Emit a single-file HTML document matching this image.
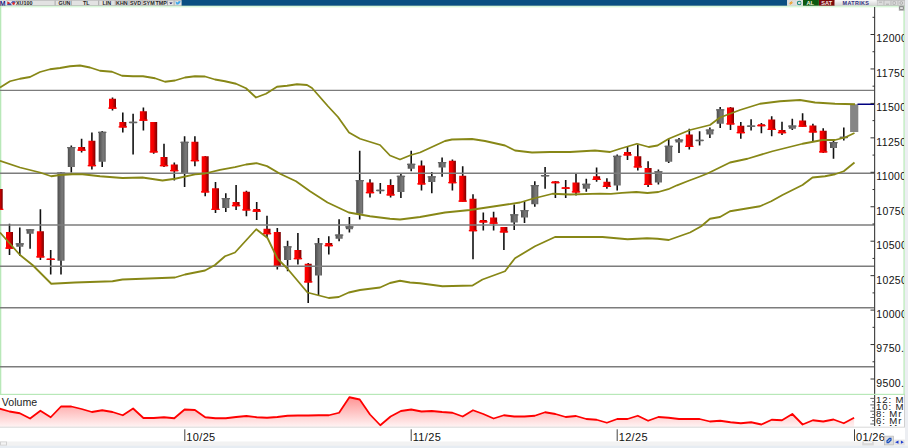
<!DOCTYPE html>
<html><head><meta charset="utf-8">
<style>
html,body{margin:0;padding:0;background:#fff;width:908px;height:448px;overflow:hidden}
svg{display:block;font-family:"Liberation Sans",sans-serif}
</style></head><body>
<svg width="908" height="448" viewBox="0 0 908 448">
<defs>
<linearGradient id="gr" x1="0" y1="0" x2="1" y2="0">
<stop offset="0" stop-color="#e80000"/><stop offset="0.12" stop-color="#ff0000"/><stop offset="0.45" stop-color="#f40000"/><stop offset="1" stop-color="#760000"/>
</linearGradient>
<linearGradient id="gg" x1="0" y1="0" x2="1" y2="0">
<stop offset="0" stop-color="#4c4c4c"/><stop offset="0.55" stop-color="#747474"/><stop offset="0.75" stop-color="#787878"/><stop offset="1" stop-color="#555"/>
</linearGradient>
<linearGradient id="gv" gradientUnits="userSpaceOnUse" x1="0" y1="395" x2="0" y2="427">
<stop offset="0" stop-color="#ff8c8c"/><stop offset="1" stop-color="#fff4f4"/>
</linearGradient>
<linearGradient id="gm" x1="0" y1="0" x2="0" y2="1"><stop offset="0" stop-color="#f8f8f8"/><stop offset="1" stop-color="#d4d4d4"/></linearGradient>
<clipPath id="cc"><rect x="0" y="7" width="874.5" height="387"/></clipPath>
<clipPath id="ca"><rect x="875" y="7" width="29" height="387"/></clipPath>
<clipPath id="cva"><rect x="875" y="395" width="29" height="31"/></clipPath>
<clipPath id="cv"><rect x="0" y="395" width="874.5" height="32"/></clipPath>
</defs>

<!-- toolbar -->
<rect x="0" y="0" width="908" height="6" fill="#e2e2e2"/>
<rect x="0" y="0" width="908" height="0.6" fill="#b4b4b4"/>
<rect x="0" y="5" width="908" height="1" fill="#bdbdbd"/>
<rect x="0" y="0.6" width="6" height="4.6" fill="#f2f2f8"/>
<text x="-0.2" y="5.6" font-size="7" font-weight="bold" fill="#1e1e78">M</text>
<rect x="7" y="0.8" width="8.6" height="4.6" fill="#e8e8f0"/>
<path d="M7.3,1.2 L10.5,3.2 L7.3,5 Z" fill="#d82020"/>
<path d="M7.3,4.2 L10.5,3.2 L12,5.2 L7.3,5.2 Z" fill="#4050a0"/>
<path d="M10.5,3.2 L12.5,1 L15.5,1.2 L15.5,3 Z" fill="#5060b0"/>
<circle cx="13.6" cy="3.6" r="1.3" fill="#e02828"/>
<g font-size="5.4" font-weight="bold" fill="#262626">
<text x="16" y="4.9">XU100</text>
<text x="58.5" y="4.9">GUN</text>
<text x="83" y="4.9">TL</text>
<text x="102.5" y="4.9">LIN</text>
<text x="116" y="4.9">KHN</text>
<text x="130" y="4.9">SVD</text>
<text x="143" y="4.9">SYM</text>
<text x="155.5" y="4.9">TMP</text>
</g>
<g fill="#a8a8a8">
<rect x="54.6" y="0.6" width="1" height="4.8"/>
<rect x="70.8" y="0.6" width="1" height="4.8"/>
<rect x="98.2" y="0.6" width="1" height="4.8"/>
<rect x="114.8" y="0.6" width="1" height="4.8"/>
<rect x="128.5" y="0.6" width="1" height="4.8"/>
<rect x="141.6" y="0.6" width="1" height="4.8"/>
<rect x="167" y="0.6" width="1" height="4.8"/>
<rect x="173.6" y="0.6" width="1" height="4.8"/>
</g>
<path d="M169.2,2.4 L172.6,2.4 L170.9,4.2 Z" fill="#1a1a60"/>
<path d="M175.2,4.6 Q178.8,5.4 180.4,2.2 L181.2,1.3 L180.2,1.5 Q179.2,0.6 178.2,1.6 L178,2.4 Q176.6,2.3 175.6,1.2 Q175.2,2.4 176.2,3 L175.6,3 Q176,4 177,4.2 Q176.2,4.7 175.2,4.6 Z" fill="#40a8e8"/>
<rect x="181.6" y="0" width="605.5" height="5.8" fill="#0a4f82"/>
<rect x="787.1" y="0" width="8.4" height="5.8" fill="#dcdcdc"/>
<path d="M792.6,0.4 L788.6,3.4 L790.7,3.4 L789.2,5.6 L793.4,2.4 L791.3,2.4 Z" fill="#f09a18"/>
<rect x="795.5" y="0" width="7.4" height="5.8" fill="#e0e0e0"/>
<circle cx="799.2" cy="3" r="1.8" fill="none" stroke="#188a78" stroke-width="1.1"/><rect x="800.2" y="2.4" width="1.4" height="1" fill="#e0e0e0"/>
<rect x="803" y="0" width="15.9" height="5.8" fill="#0c5a10"/>
<text x="806.5" y="5" font-size="5.6" font-weight="bold" fill="#f4f4e0">AL</text>
<rect x="819" y="0" width="15.6" height="5.8" fill="#7c0a0a"/>
<text x="821.3" y="5" font-size="5.6" font-weight="bold" fill="#f4e8e8">SAT</text>
<rect x="834.8" y="0" width="42" height="5.8" fill="url(#gm)"/>
<text x="842.6" y="4.9" font-size="5.4" font-weight="bold" fill="#303080" letter-spacing="0.35">MATRIKS</text>
<g fill="#dadada" stroke="#b8b8b8" stroke-width="0.5"><rect x="877.2" y="0.5" width="6.4" height="4.9"/><rect x="884.2" y="0.5" width="6.4" height="4.9"/><rect x="891.2" y="0.5" width="6.4" height="4.9"/><rect x="898.2" y="0.5" width="6.4" height="4.9"/></g>
<g fill="#999"><rect x="879" y="1.8" width="3" height="0.6"/><rect x="886" y="3.8" width="3" height="0.7"/><rect x="893" y="1.8" width="2.5" height="2.5" fill="none" stroke="#999" stroke-width="0.5"/><circle cx="901.3" cy="3" r="1.4" fill="none" stroke="#999" stroke-width="0.6"/></g>
<rect x="905" y="0" width="3" height="448" fill="#eceef2"/>

<!-- green borders -->
<rect x="0" y="5.8" width="905" height="1" fill="#cdf5cd"/><rect x="0" y="6.8" width="905" height="0.8" fill="#e6fae6"/>
<rect x="0" y="6" width="1.3" height="388" fill="#b8e8b8"/>
<rect x="903.4" y="6" width="1.4" height="388" fill="#bfeabf"/>

<rect x="898.8" y="5.8" width="5.6" height="5" fill="#b4b4b4"/>
<rect x="899.8" y="6.8" width="3.4" height="2.8" fill="#e0e0e0" stroke="#666" stroke-width="0.6"/>
<g clip-path="url(#cc)">
<line x1="-0.80" y1="185" x2="-0.80" y2="212" stroke="#111" stroke-width="1.6"/>
<rect x="-4.30" y="189" width="7" height="21.00" fill="url(#gr)"/>
<rect x="-5.00" y="208.70" width="8.4" height="1.3" fill="#f00"/>
<line x1="9.50" y1="223.75" x2="9.50" y2="255" stroke="#111" stroke-width="1.6"/>
<rect x="6.00" y="232" width="7" height="16.75" fill="url(#gr)"/>
<rect x="5.30" y="247.45" width="8.4" height="1.3" fill="#f00"/>
<line x1="19.80" y1="227.5" x2="19.80" y2="255.75" stroke="#111" stroke-width="1.6"/>
<rect x="16.30" y="243.25" width="7" height="3.50" fill="url(#gg)"/>
<rect x="15.60" y="243.25" width="8.4" height="1.3" fill="#666"/>
<line x1="30.10" y1="229" x2="30.10" y2="248.75" stroke="#111" stroke-width="1.6"/>
<rect x="26.60" y="229.25" width="7" height="4.50" fill="url(#gg)"/>
<rect x="25.90" y="229.25" width="8.4" height="1.3" fill="#666"/>
<line x1="40.40" y1="209.25" x2="40.40" y2="260" stroke="#111" stroke-width="1.6"/>
<rect x="36.90" y="231.25" width="7" height="26.25" fill="url(#gr)"/>
<rect x="36.20" y="256.20" width="8.4" height="1.3" fill="#f00"/>
<line x1="50.70" y1="250" x2="50.70" y2="274.5" stroke="#111" stroke-width="1.6"/>
<rect x="47.20" y="258.5" width="7" height="1.50" fill="url(#gr)"/>
<rect x="46.50" y="258.70" width="8.4" height="1.3" fill="#f00"/>
<line x1="61.00" y1="172" x2="61.00" y2="274.5" stroke="#111" stroke-width="1.6"/>
<rect x="57.50" y="172.5" width="7" height="88.25" fill="url(#gg)"/>
<rect x="56.80" y="172.50" width="8.4" height="1.3" fill="#666"/>
<line x1="71.30" y1="145.5" x2="71.30" y2="172.5" stroke="#111" stroke-width="1.6"/>
<rect x="67.80" y="147" width="7" height="20.00" fill="url(#gg)"/>
<rect x="67.10" y="147.00" width="8.4" height="1.3" fill="#666"/>
<line x1="81.60" y1="138.75" x2="81.60" y2="152.5" stroke="#111" stroke-width="1.6"/>
<rect x="78.10" y="147" width="7" height="3.75" fill="url(#gr)"/>
<rect x="77.40" y="149.45" width="8.4" height="1.3" fill="#f00"/>
<line x1="91.90" y1="132.5" x2="91.90" y2="169.5" stroke="#111" stroke-width="1.6"/>
<rect x="88.40" y="140.75" width="7" height="25.50" fill="url(#gr)"/>
<rect x="87.70" y="164.95" width="8.4" height="1.3" fill="#f00"/>
<line x1="102.20" y1="131" x2="102.20" y2="167" stroke="#111" stroke-width="1.6"/>
<rect x="98.70" y="131.75" width="7" height="30.00" fill="url(#gg)"/>
<rect x="98.00" y="131.75" width="8.4" height="1.3" fill="#666"/>
<line x1="112.50" y1="97.5" x2="112.50" y2="110.5" stroke="#111" stroke-width="1.6"/>
<rect x="109.00" y="98.75" width="7" height="10.00" fill="url(#gr)"/>
<rect x="108.30" y="107.45" width="8.4" height="1.3" fill="#f00"/>
<line x1="122.80" y1="112.5" x2="122.80" y2="132.5" stroke="#111" stroke-width="1.6"/>
<rect x="119.30" y="122" width="7" height="5.50" fill="url(#gr)"/>
<rect x="118.60" y="126.20" width="8.4" height="1.3" fill="#f00"/>
<line x1="133.10" y1="113.75" x2="133.10" y2="154.5" stroke="#111" stroke-width="1.6"/>
<rect x="129.60" y="121.75" width="7" height="1.50" fill="url(#gg)"/>
<rect x="128.90" y="121.75" width="8.4" height="1.3" fill="#666"/>
<line x1="143.40" y1="107.5" x2="143.40" y2="130.5" stroke="#111" stroke-width="1.6"/>
<rect x="139.90" y="111.25" width="7" height="9.50" fill="url(#gr)"/>
<rect x="139.20" y="119.45" width="8.4" height="1.3" fill="#f00"/>
<line x1="153.70" y1="122" x2="153.70" y2="153.75" stroke="#111" stroke-width="1.6"/>
<rect x="150.20" y="122" width="7" height="30.50" fill="url(#gr)"/>
<rect x="149.50" y="151.20" width="8.4" height="1.3" fill="#f00"/>
<line x1="164.00" y1="143.75" x2="164.00" y2="167" stroke="#111" stroke-width="1.6"/>
<rect x="160.50" y="157" width="7" height="9.25" fill="url(#gr)"/>
<rect x="159.80" y="164.95" width="8.4" height="1.3" fill="#f00"/>
<line x1="174.30" y1="162.5" x2="174.30" y2="180.5" stroke="#111" stroke-width="1.6"/>
<rect x="170.80" y="164.5" width="7" height="6.75" fill="url(#gr)"/>
<rect x="170.10" y="169.95" width="8.4" height="1.3" fill="#f00"/>
<line x1="184.60" y1="136.25" x2="184.60" y2="187" stroke="#111" stroke-width="1.6"/>
<rect x="181.10" y="141.75" width="7" height="32.00" fill="url(#gg)"/>
<rect x="180.40" y="141.75" width="8.4" height="1.3" fill="#666"/>
<line x1="194.90" y1="136.25" x2="194.90" y2="166.25" stroke="#111" stroke-width="1.6"/>
<rect x="191.40" y="141.75" width="7" height="19.50" fill="url(#gr)"/>
<rect x="190.70" y="159.95" width="8.4" height="1.3" fill="#f00"/>
<line x1="205.20" y1="156" x2="205.20" y2="196.25" stroke="#111" stroke-width="1.6"/>
<rect x="201.70" y="156.25" width="7" height="36.25" fill="url(#gr)"/>
<rect x="201.00" y="191.20" width="8.4" height="1.3" fill="#f00"/>
<line x1="215.50" y1="182" x2="215.50" y2="213" stroke="#111" stroke-width="1.6"/>
<rect x="212.00" y="188.25" width="7" height="21.75" fill="url(#gr)"/>
<rect x="211.30" y="208.70" width="8.4" height="1.3" fill="#f00"/>
<line x1="225.80" y1="193.25" x2="225.80" y2="212" stroke="#111" stroke-width="1.6"/>
<rect x="222.30" y="198" width="7" height="10.00" fill="url(#gg)"/>
<rect x="221.60" y="198.00" width="8.4" height="1.3" fill="#666"/>
<line x1="236.10" y1="185" x2="236.10" y2="210" stroke="#111" stroke-width="1.6"/>
<rect x="232.60" y="202" width="7" height="4.25" fill="url(#gr)"/>
<rect x="231.90" y="204.95" width="8.4" height="1.3" fill="#f00"/>
<line x1="246.40" y1="190.75" x2="246.40" y2="216.25" stroke="#111" stroke-width="1.6"/>
<rect x="242.90" y="191.75" width="7" height="18.75" fill="url(#gr)"/>
<rect x="242.20" y="209.20" width="8.4" height="1.3" fill="#f00"/>
<line x1="256.70" y1="202" x2="256.70" y2="220" stroke="#111" stroke-width="1.6"/>
<rect x="253.20" y="209" width="7" height="2.75" fill="url(#gr)"/>
<rect x="252.50" y="210.45" width="8.4" height="1.3" fill="#f00"/>
<line x1="267.00" y1="215.75" x2="267.00" y2="238" stroke="#111" stroke-width="1.6"/>
<rect x="263.50" y="228.75" width="7" height="5.50" fill="url(#gr)"/>
<rect x="262.80" y="232.95" width="8.4" height="1.3" fill="#f00"/>
<line x1="277.30" y1="228" x2="277.30" y2="269.5" stroke="#111" stroke-width="1.6"/>
<rect x="273.80" y="232" width="7" height="35.00" fill="url(#gr)"/>
<rect x="273.10" y="265.70" width="8.4" height="1.3" fill="#f00"/>
<line x1="287.60" y1="240.75" x2="287.60" y2="271.25" stroke="#111" stroke-width="1.6"/>
<rect x="284.10" y="246.25" width="7" height="13.75" fill="url(#gg)"/>
<rect x="283.40" y="246.25" width="8.4" height="1.3" fill="#666"/>
<line x1="297.90" y1="233" x2="297.90" y2="264.5" stroke="#111" stroke-width="1.6"/>
<rect x="294.40" y="250" width="7" height="9.25" fill="url(#gr)"/>
<rect x="293.70" y="257.95" width="8.4" height="1.3" fill="#f00"/>
<line x1="308.20" y1="263" x2="308.20" y2="303" stroke="#111" stroke-width="1.6"/>
<rect x="304.70" y="263.75" width="7" height="18.75" fill="url(#gr)"/>
<rect x="304.00" y="281.20" width="8.4" height="1.3" fill="#f00"/>
<line x1="318.50" y1="238" x2="318.50" y2="295" stroke="#111" stroke-width="1.6"/>
<rect x="315.00" y="243.25" width="7" height="32.25" fill="url(#gg)"/>
<rect x="314.30" y="243.25" width="8.4" height="1.3" fill="#666"/>
<line x1="328.80" y1="236.25" x2="328.80" y2="254.5" stroke="#111" stroke-width="1.6"/>
<rect x="325.30" y="243" width="7" height="3.25" fill="url(#gr)"/>
<rect x="324.60" y="244.95" width="8.4" height="1.3" fill="#f00"/>
<line x1="339.10" y1="219.25" x2="339.10" y2="241.25" stroke="#111" stroke-width="1.6"/>
<rect x="335.60" y="234.5" width="7" height="4.25" fill="url(#gg)"/>
<rect x="334.90" y="234.50" width="8.4" height="1.3" fill="#666"/>
<line x1="349.40" y1="217" x2="349.40" y2="232.5" stroke="#111" stroke-width="1.6"/>
<rect x="345.90" y="226.25" width="7" height="3.00" fill="url(#gg)"/>
<rect x="345.20" y="226.25" width="8.4" height="1.3" fill="#666"/>
<line x1="359.70" y1="150.75" x2="359.70" y2="219.5" stroke="#111" stroke-width="1.6"/>
<rect x="356.20" y="180" width="7" height="33.75" fill="url(#gg)"/>
<rect x="355.50" y="180.00" width="8.4" height="1.3" fill="#666"/>
<line x1="370.00" y1="179.25" x2="370.00" y2="197.5" stroke="#111" stroke-width="1.6"/>
<rect x="366.50" y="182.5" width="7" height="10.75" fill="url(#gr)"/>
<rect x="365.80" y="191.95" width="8.4" height="1.3" fill="#f00"/>
<line x1="380.30" y1="183" x2="380.30" y2="193.75" stroke="#111" stroke-width="1.6"/>
<rect x="376.80" y="189.75" width="7" height="1.50" fill="url(#gg)"/>
<rect x="376.10" y="189.75" width="8.4" height="1.3" fill="#666"/>
<line x1="390.60" y1="179.25" x2="390.60" y2="197.5" stroke="#111" stroke-width="1.6"/>
<rect x="387.10" y="185" width="7" height="10.50" fill="url(#gr)"/>
<rect x="386.40" y="194.20" width="8.4" height="1.3" fill="#f00"/>
<line x1="400.90" y1="173.75" x2="400.90" y2="198" stroke="#111" stroke-width="1.6"/>
<rect x="397.40" y="175.75" width="7" height="16.25" fill="url(#gg)"/>
<rect x="396.70" y="175.75" width="8.4" height="1.3" fill="#666"/>
<line x1="411.20" y1="150.75" x2="411.20" y2="171.25" stroke="#111" stroke-width="1.6"/>
<rect x="407.70" y="163.75" width="7" height="5.00" fill="url(#gg)"/>
<rect x="407.00" y="163.75" width="8.4" height="1.3" fill="#666"/>
<line x1="421.50" y1="160.5" x2="421.50" y2="190.5" stroke="#111" stroke-width="1.6"/>
<rect x="418.00" y="165.5" width="7" height="19.00" fill="url(#gr)"/>
<rect x="417.30" y="183.20" width="8.4" height="1.3" fill="#f00"/>
<line x1="431.80" y1="172" x2="431.80" y2="193.25" stroke="#111" stroke-width="1.6"/>
<rect x="428.30" y="176.25" width="7" height="5.75" fill="url(#gg)"/>
<rect x="427.60" y="176.25" width="8.4" height="1.3" fill="#666"/>
<line x1="442.10" y1="157.5" x2="442.10" y2="176.75" stroke="#111" stroke-width="1.6"/>
<rect x="438.60" y="162" width="7" height="5.50" fill="url(#gg)"/>
<rect x="437.90" y="162.00" width="8.4" height="1.3" fill="#666"/>
<line x1="452.40" y1="159.5" x2="452.40" y2="190.5" stroke="#111" stroke-width="1.6"/>
<rect x="448.90" y="160.75" width="7" height="22.50" fill="url(#gr)"/>
<rect x="448.20" y="181.95" width="8.4" height="1.3" fill="#f00"/>
<line x1="462.70" y1="166.25" x2="462.70" y2="201.75" stroke="#111" stroke-width="1.6"/>
<rect x="459.20" y="175.75" width="7" height="26.00" fill="url(#gr)"/>
<rect x="458.50" y="200.45" width="8.4" height="1.3" fill="#f00"/>
<line x1="473.00" y1="194.25" x2="473.00" y2="259.25" stroke="#111" stroke-width="1.6"/>
<rect x="469.50" y="198.75" width="7" height="32.50" fill="url(#gr)"/>
<rect x="468.80" y="229.95" width="8.4" height="1.3" fill="#f00"/>
<line x1="483.30" y1="212.5" x2="483.30" y2="230.5" stroke="#111" stroke-width="1.6"/>
<rect x="479.80" y="220" width="7" height="2.50" fill="url(#gr)"/>
<rect x="479.10" y="221.20" width="8.4" height="1.3" fill="#f00"/>
<line x1="493.60" y1="211.75" x2="493.60" y2="230.5" stroke="#111" stroke-width="1.6"/>
<rect x="490.10" y="217.5" width="7" height="6.25" fill="url(#gr)"/>
<rect x="489.40" y="222.45" width="8.4" height="1.3" fill="#f00"/>
<line x1="503.90" y1="227" x2="503.90" y2="250" stroke="#111" stroke-width="1.6"/>
<rect x="500.40" y="227" width="7" height="5.50" fill="url(#gr)"/>
<rect x="499.70" y="231.20" width="8.4" height="1.3" fill="#f00"/>
<line x1="514.20" y1="204.5" x2="514.20" y2="230" stroke="#111" stroke-width="1.6"/>
<rect x="510.70" y="214.25" width="7" height="8.25" fill="url(#gg)"/>
<rect x="510.00" y="214.25" width="8.4" height="1.3" fill="#666"/>
<line x1="524.50" y1="201.25" x2="524.50" y2="223" stroke="#111" stroke-width="1.6"/>
<rect x="521.00" y="210" width="7" height="7.50" fill="url(#gg)"/>
<rect x="520.30" y="210.00" width="8.4" height="1.3" fill="#666"/>
<line x1="534.80" y1="181.25" x2="534.80" y2="206.75" stroke="#111" stroke-width="1.6"/>
<rect x="531.30" y="185" width="7" height="19.25" fill="url(#gg)"/>
<rect x="530.60" y="185.00" width="8.4" height="1.3" fill="#666"/>
<line x1="545.10" y1="167" x2="545.10" y2="188.75" stroke="#111" stroke-width="1.6"/>
<rect x="541.60" y="175" width="7" height="1.50" fill="url(#gg)"/>
<rect x="540.90" y="175.00" width="8.4" height="1.3" fill="#666"/>
<line x1="555.40" y1="181" x2="555.40" y2="198" stroke="#111" stroke-width="1.6"/>
<rect x="551.90" y="181.25" width="7" height="2.00" fill="url(#gr)"/>
<rect x="551.20" y="181.95" width="8.4" height="1.3" fill="#f00"/>
<line x1="565.70" y1="180" x2="565.70" y2="198" stroke="#111" stroke-width="1.6"/>
<rect x="562.20" y="187.25" width="7" height="1.50" fill="url(#gr)"/>
<rect x="561.50" y="187.45" width="8.4" height="1.3" fill="#f00"/>
<line x1="576.00" y1="173" x2="576.00" y2="195.5" stroke="#111" stroke-width="1.6"/>
<rect x="572.50" y="182.5" width="7" height="10.00" fill="url(#gr)"/>
<rect x="571.80" y="191.20" width="8.4" height="1.3" fill="#f00"/>
<line x1="586.30" y1="178.75" x2="586.30" y2="191.75" stroke="#111" stroke-width="1.6"/>
<rect x="582.80" y="183.75" width="7" height="5.00" fill="url(#gg)"/>
<rect x="582.10" y="183.75" width="8.4" height="1.3" fill="#666"/>
<line x1="596.60" y1="167.5" x2="596.60" y2="181.75" stroke="#111" stroke-width="1.6"/>
<rect x="593.10" y="176.25" width="7" height="3.75" fill="url(#gr)"/>
<rect x="592.40" y="178.70" width="8.4" height="1.3" fill="#f00"/>
<line x1="606.90" y1="178.25" x2="606.90" y2="188.75" stroke="#111" stroke-width="1.6"/>
<rect x="603.40" y="181.75" width="7" height="5.25" fill="url(#gr)"/>
<rect x="602.70" y="185.70" width="8.4" height="1.3" fill="#f00"/>
<line x1="617.20" y1="154.5" x2="617.20" y2="190.5" stroke="#111" stroke-width="1.6"/>
<rect x="613.70" y="155.75" width="7" height="29.75" fill="url(#gg)"/>
<rect x="613.00" y="155.75" width="8.4" height="1.3" fill="#666"/>
<line x1="627.50" y1="147" x2="627.50" y2="160" stroke="#111" stroke-width="1.6"/>
<rect x="624.00" y="152" width="7" height="3.50" fill="url(#gr)"/>
<rect x="623.30" y="154.20" width="8.4" height="1.3" fill="#f00"/>
<line x1="637.80" y1="144.5" x2="637.80" y2="170.5" stroke="#111" stroke-width="1.6"/>
<rect x="634.30" y="156.25" width="7" height="11.25" fill="url(#gr)"/>
<rect x="633.60" y="166.20" width="8.4" height="1.3" fill="#f00"/>
<line x1="648.10" y1="161.25" x2="648.10" y2="187" stroke="#111" stroke-width="1.6"/>
<rect x="644.60" y="168" width="7" height="17.00" fill="url(#gr)"/>
<rect x="643.90" y="183.70" width="8.4" height="1.3" fill="#f00"/>
<line x1="658.40" y1="169.5" x2="658.40" y2="184.5" stroke="#111" stroke-width="1.6"/>
<rect x="654.90" y="171.25" width="7" height="11.25" fill="url(#gg)"/>
<rect x="654.20" y="171.25" width="8.4" height="1.3" fill="#666"/>
<line x1="668.70" y1="138.75" x2="668.70" y2="163" stroke="#111" stroke-width="1.6"/>
<rect x="665.20" y="145.75" width="7" height="16.00" fill="url(#gg)"/>
<rect x="664.50" y="145.75" width="8.4" height="1.3" fill="#666"/>
<line x1="679.00" y1="138" x2="679.00" y2="153" stroke="#111" stroke-width="1.6"/>
<rect x="675.50" y="139.5" width="7" height="3.00" fill="url(#gg)"/>
<rect x="674.80" y="139.50" width="8.4" height="1.3" fill="#666"/>
<line x1="689.30" y1="128.75" x2="689.30" y2="149.5" stroke="#111" stroke-width="1.6"/>
<rect x="685.80" y="134.5" width="7" height="12.50" fill="url(#gr)"/>
<rect x="685.10" y="145.70" width="8.4" height="1.3" fill="#f00"/>
<line x1="699.60" y1="131.25" x2="699.60" y2="145.5" stroke="#111" stroke-width="1.6"/>
<rect x="696.10" y="139.75" width="7" height="1.50" fill="url(#gg)"/>
<rect x="695.40" y="139.75" width="8.4" height="1.3" fill="#666"/>
<line x1="709.90" y1="127.5" x2="709.90" y2="138" stroke="#111" stroke-width="1.6"/>
<rect x="706.40" y="129.5" width="7" height="5.00" fill="url(#gg)"/>
<rect x="705.70" y="129.50" width="8.4" height="1.3" fill="#666"/>
<line x1="720.20" y1="107" x2="720.20" y2="128" stroke="#111" stroke-width="1.6"/>
<rect x="716.70" y="109.25" width="7" height="14.50" fill="url(#gg)"/>
<rect x="716.00" y="109.25" width="8.4" height="1.3" fill="#666"/>
<line x1="730.50" y1="107" x2="730.50" y2="130" stroke="#111" stroke-width="1.6"/>
<rect x="727.00" y="107.5" width="7" height="17.00" fill="url(#gr)"/>
<rect x="726.30" y="123.20" width="8.4" height="1.3" fill="#f00"/>
<line x1="740.80" y1="122" x2="740.80" y2="138.75" stroke="#111" stroke-width="1.6"/>
<rect x="737.30" y="125.75" width="7" height="7.50" fill="url(#gr)"/>
<rect x="736.60" y="131.95" width="8.4" height="1.3" fill="#f00"/>
<line x1="751.10" y1="119.25" x2="751.10" y2="130.5" stroke="#111" stroke-width="1.6"/>
<rect x="747.60" y="125.5" width="7" height="1.50" fill="url(#gg)"/>
<rect x="746.90" y="125.50" width="8.4" height="1.3" fill="#666"/>
<line x1="761.40" y1="123" x2="761.40" y2="133.25" stroke="#111" stroke-width="1.6"/>
<rect x="757.90" y="124.25" width="7" height="2.00" fill="url(#gr)"/>
<rect x="757.20" y="124.95" width="8.4" height="1.3" fill="#f00"/>
<line x1="771.70" y1="116.25" x2="771.70" y2="136.25" stroke="#111" stroke-width="1.6"/>
<rect x="768.20" y="119.5" width="7" height="10.50" fill="url(#gr)"/>
<rect x="767.50" y="128.70" width="8.4" height="1.3" fill="#f00"/>
<line x1="782.00" y1="121.75" x2="782.00" y2="135" stroke="#111" stroke-width="1.6"/>
<rect x="778.50" y="130" width="7" height="3.25" fill="url(#gr)"/>
<rect x="777.80" y="131.95" width="8.4" height="1.3" fill="#f00"/>
<line x1="792.30" y1="118.75" x2="792.30" y2="130" stroke="#111" stroke-width="1.6"/>
<rect x="788.80" y="125.5" width="7" height="3.25" fill="url(#gg)"/>
<rect x="788.10" y="125.50" width="8.4" height="1.3" fill="#666"/>
<line x1="802.60" y1="113.25" x2="802.60" y2="127" stroke="#111" stroke-width="1.6"/>
<rect x="799.10" y="120.5" width="7" height="6.25" fill="url(#gr)"/>
<rect x="798.40" y="125.45" width="8.4" height="1.3" fill="#f00"/>
<line x1="812.90" y1="123.75" x2="812.90" y2="142" stroke="#111" stroke-width="1.6"/>
<rect x="809.40" y="125.5" width="7" height="7.00" fill="url(#gr)"/>
<rect x="808.70" y="131.20" width="8.4" height="1.3" fill="#f00"/>
<line x1="823.20" y1="128.25" x2="823.20" y2="153" stroke="#111" stroke-width="1.6"/>
<rect x="819.70" y="130.75" width="7" height="21.75" fill="url(#gr)"/>
<rect x="819.00" y="151.20" width="8.4" height="1.3" fill="#f00"/>
<line x1="833.50" y1="139.5" x2="833.50" y2="158.75" stroke="#111" stroke-width="1.6"/>
<rect x="830.00" y="142" width="7" height="6.00" fill="url(#gg)"/>
<rect x="829.30" y="142.00" width="8.4" height="1.3" fill="#666"/>
<line x1="843.80" y1="127.5" x2="843.80" y2="140.5" stroke="#111" stroke-width="1.6"/>
<rect x="840.30" y="136.75" width="7" height="1.50" fill="url(#gg)"/>
<rect x="839.60" y="136.75" width="8.4" height="1.3" fill="#666"/>
<line x1="854.10" y1="104" x2="854.10" y2="132" stroke="#111" stroke-width="1.6"/>
<rect x="850.10" y="104.25" width="8.2" height="27.75" fill="#858585"/>
<line x1="0" y1="90.4" x2="874.5" y2="90.4" stroke="#7c7c7c" stroke-width="1.4"/>
<line x1="0" y1="173.3" x2="874.5" y2="173.3" stroke="#7c7c7c" stroke-width="1.4"/>
<line x1="0" y1="225" x2="874.5" y2="225" stroke="#7c7c7c" stroke-width="1.4"/>
<line x1="0" y1="266.3" x2="874.5" y2="266.3" stroke="#7c7c7c" stroke-width="1.4"/>
<line x1="0" y1="307.7" x2="874.5" y2="307.7" stroke="#7c7c7c" stroke-width="1.4"/>
<line x1="0" y1="366.8" x2="874.5" y2="366.8" stroke="#7c7c7c" stroke-width="1.4"/>
<polyline points="0.00,87.50 10.00,81.25 20.00,78.75 30.00,77.00 40.00,72.00 50.00,69.25 60.00,68.00 70.00,66.25 80.00,65.50 90.00,67.50 100.00,70.75 112.00,71.75 122.00,75.75 133.00,76.25 143.00,76.25 155.00,78.25 165.00,81.75 175.00,80.50 185.00,77.50 195.00,76.25 205.00,76.50 215.00,79.50 225.00,81.25 236.00,83.75 246.00,88.25 256.00,97.50 266.00,93.75 277.00,86.75 287.00,85.75 297.00,84.25 307.00,85.00 312.00,88.00 328.00,106.25 338.00,117.00 349.00,132.50 360.00,138.75 380.00,145.00 390.00,155.50 400.00,159.50 411.00,155.00 420.00,152.50 445.00,141.00 452.00,139.50 472.00,139.00 485.00,141.00 505.00,145.50 515.00,150.50 532.00,152.50 550.00,152.00 570.00,152.00 595.00,150.50 610.00,152.00 620.00,148.75 637.00,143.75 648.75,147.00 657.50,145.50 668.75,138.75 690.00,130.00 710.00,125.00 720.00,117.50 740.00,110.00 760.00,103.75 780.00,101.25 800.00,100.00 815.00,102.50 835.00,103.75 855.00,104.25" fill="none" stroke="#878716" stroke-width="1.8" stroke-linejoin="round"/>
<polyline points="0.00,160.75 20.00,167.50 40.00,172.50 51.25,176.25 60.00,175.00 72.50,174.25 82.50,174.25 100.00,176.25 122.50,178.00 142.50,177.50 162.50,180.50 175.00,178.75 195.00,174.40 205.00,173.50 220.00,169.80 235.00,167.20 246.00,164.50 256.50,163.20 267.00,166.10 280.00,173.75 296.00,181.25 310.00,191.25 327.50,202.50 348.75,212.50 370.00,216.25 390.00,218.75 400.00,219.50 420.00,217.00 445.00,212.50 470.00,210.00 495.00,206.25 520.00,202.50 532.50,198.75 552.50,193.75 570.00,194.50 600.00,193.60 611.00,193.90 622.00,192.80 636.30,192.00 647.40,193.00 658.40,192.00 668.30,189.20 677.00,185.30 688.00,181.00 700.00,176.50 707.50,173.50 730.00,162.50 747.50,158.75 772.50,151.25 802.50,143.75 822.50,140.00 835.00,140.00 845.00,137.50 854.50,133.00" fill="none" stroke="#878716" stroke-width="1.8" stroke-linejoin="round"/>
<polyline points="0.00,232.50 20.00,255.00 32.50,265.00 51.25,283.75 75.00,282.50 112.50,281.25 122.50,279.50 175.00,277.50 185.00,274.50 205.00,270.50 215.00,265.00 225.00,256.25 235.00,252.50 256.25,229.25 267.50,238.00 277.50,258.75 287.50,268.75 307.50,292.50 328.75,298.00 338.75,297.00 348.75,292.50 360.00,290.00 380.00,287.50 390.00,283.00 400.00,280.75 410.00,282.50 420.00,283.25 442.50,286.25 472.50,285.50 482.50,279.50 505.00,271.25 515.00,258.25 535.00,246.25 555.00,237.00 602.50,237.00 627.50,239.25 647.00,238.25 657.50,238.75 668.75,240.00 690.00,232.50 701.25,226.25 710.00,218.75 720.00,217.00 730.00,211.25 745.00,208.75 760.00,206.25 771.25,201.25 782.50,195.00 802.50,185.00 812.50,177.50 825.00,176.25 835.00,174.25 843.75,171.25 854.50,162.50" fill="none" stroke="#878716" stroke-width="1.8" stroke-linejoin="round"/>
<line x1="857.5" y1="104.3" x2="874.5" y2="104.3" stroke="#000080" stroke-width="1.6"/>
</g>
<line x1="874.6" y1="7" x2="874.6" y2="426" stroke="#484848" stroke-width="1.2"/>
<line x1="870.5" y1="34.50" x2="874.6" y2="34.50" stroke="#333" stroke-width="1"/>
<line x1="872.5" y1="51.73" x2="874.6" y2="51.73" stroke="#333" stroke-width="1"/>
<line x1="870.5" y1="68.95" x2="874.6" y2="68.95" stroke="#333" stroke-width="1"/>
<line x1="872.5" y1="86.18" x2="874.6" y2="86.18" stroke="#333" stroke-width="1"/>
<line x1="870.5" y1="103.40" x2="874.6" y2="103.40" stroke="#333" stroke-width="1"/>
<line x1="872.5" y1="120.62" x2="874.6" y2="120.62" stroke="#333" stroke-width="1"/>
<line x1="870.5" y1="137.85" x2="874.6" y2="137.85" stroke="#333" stroke-width="1"/>
<line x1="872.5" y1="155.08" x2="874.6" y2="155.08" stroke="#333" stroke-width="1"/>
<line x1="870.5" y1="172.30" x2="874.6" y2="172.30" stroke="#333" stroke-width="1"/>
<line x1="872.5" y1="189.53" x2="874.6" y2="189.53" stroke="#333" stroke-width="1"/>
<line x1="870.5" y1="206.75" x2="874.6" y2="206.75" stroke="#333" stroke-width="1"/>
<line x1="872.5" y1="223.97" x2="874.6" y2="223.97" stroke="#333" stroke-width="1"/>
<line x1="870.5" y1="241.20" x2="874.6" y2="241.20" stroke="#333" stroke-width="1"/>
<line x1="872.5" y1="258.43" x2="874.6" y2="258.43" stroke="#333" stroke-width="1"/>
<line x1="870.5" y1="275.65" x2="874.6" y2="275.65" stroke="#333" stroke-width="1"/>
<line x1="872.5" y1="292.88" x2="874.6" y2="292.88" stroke="#333" stroke-width="1"/>
<line x1="870.5" y1="310.10" x2="874.6" y2="310.10" stroke="#333" stroke-width="1"/>
<line x1="872.5" y1="327.33" x2="874.6" y2="327.33" stroke="#333" stroke-width="1"/>
<line x1="870.5" y1="344.55" x2="874.6" y2="344.55" stroke="#333" stroke-width="1"/>
<line x1="872.5" y1="361.78" x2="874.6" y2="361.78" stroke="#333" stroke-width="1"/>
<line x1="870.5" y1="379.00" x2="874.6" y2="379.00" stroke="#333" stroke-width="1"/>
<line x1="872.5" y1="17.3" x2="874.6" y2="17.3" stroke="#333" stroke-width="1"/>
<g clip-path="url(#ca)" font-size="10.5" fill="#111" letter-spacing="0.35">
<text x="876.3" y="42.40">12000.00</text>
<text x="876.3" y="76.85">11750.00</text>
<text x="876.3" y="111.30">11500.00</text>
<text x="876.3" y="145.75">11250.00</text>
<text x="876.3" y="180.20">11000.00</text>
<text x="876.3" y="214.65">10750.00</text>
<text x="876.3" y="249.10">10500.00</text>
<text x="876.3" y="283.55">10250.00</text>
<text x="876.3" y="318.00">10000.00</text>
<text x="876.3" y="352.45">9750.00</text>
<text x="876.3" y="386.90">9500.00</text>
</g>
<rect x="0" y="393.8" width="905" height="1.2" fill="#b8e8b8"/>

<!-- volume -->
<text x="1.8" y="406.2" font-size="10.6" fill="#222">Volume</text>
<g clip-path="url(#cv)">
<polygon points="-0.80,427.00 -0.80,408.50 9.50,411.50 19.80,413.25 30.10,418.50 40.40,410.75 50.70,417.25 61.00,406.50 71.30,406.50 81.60,409.00 91.90,412.00 102.20,410.25 112.50,412.00 122.80,415.25 133.10,408.50 143.40,418.00 153.70,418.00 164.00,417.25 174.30,418.25 184.60,409.50 194.90,410.00 205.20,417.25 215.50,418.25 225.80,418.25 236.10,417.00 246.40,416.00 256.70,417.25 267.00,417.75 277.30,417.00 287.60,415.75 297.90,415.50 308.20,415.50 318.50,415.25 328.80,415.25 339.10,412.75 349.40,397.25 359.70,399.50 370.00,414.50 380.30,425.25 390.60,416.50 400.90,411.00 411.20,409.50 421.50,411.50 431.80,411.00 442.10,412.00 452.40,412.75 462.70,416.50 473.00,410.25 483.30,414.00 493.60,418.50 503.90,415.25 514.20,416.50 524.50,416.50 534.80,415.75 545.10,412.25 555.40,414.00 565.70,417.00 576.00,416.00 586.30,419.00 596.60,419.75 606.90,422.75 617.20,419.00 627.50,419.00 637.80,415.75 648.10,420.75 658.40,417.00 668.70,417.75 679.00,419.00 689.30,419.00 699.60,419.00 709.90,421.50 720.20,420.75 730.50,422.25 740.80,423.25 751.10,422.25 761.40,424.50 771.70,419.75 782.00,420.25 792.30,414.00 802.60,424.50 812.90,420.25 823.20,421.50 833.50,419.50 843.80,423.25 854.10,417.75 854.10,427.00" fill="url(#gv)"/>
<polyline points="-0.80,408.50 9.50,411.50 19.80,413.25 30.10,418.50 40.40,410.75 50.70,417.25 61.00,406.50 71.30,406.50 81.60,409.00 91.90,412.00 102.20,410.25 112.50,412.00 122.80,415.25 133.10,408.50 143.40,418.00 153.70,418.00 164.00,417.25 174.30,418.25 184.60,409.50 194.90,410.00 205.20,417.25 215.50,418.25 225.80,418.25 236.10,417.00 246.40,416.00 256.70,417.25 267.00,417.75 277.30,417.00 287.60,415.75 297.90,415.50 308.20,415.50 318.50,415.25 328.80,415.25 339.10,412.75 349.40,397.25 359.70,399.50 370.00,414.50 380.30,425.25 390.60,416.50 400.90,411.00 411.20,409.50 421.50,411.50 431.80,411.00 442.10,412.00 452.40,412.75 462.70,416.50 473.00,410.25 483.30,414.00 493.60,418.50 503.90,415.25 514.20,416.50 524.50,416.50 534.80,415.75 545.10,412.25 555.40,414.00 565.70,417.00 576.00,416.00 586.30,419.00 596.60,419.75 606.90,422.75 617.20,419.00 627.50,419.00 637.80,415.75 648.10,420.75 658.40,417.00 668.70,417.75 679.00,419.00 689.30,419.00 699.60,419.00 709.90,421.50 720.20,420.75 730.50,422.25 740.80,423.25 751.10,422.25 761.40,424.50 771.70,419.75 782.00,420.25 792.30,414.00 802.60,424.50 812.90,420.25 823.20,421.50 833.50,419.50 843.80,423.25 854.10,417.75" fill="none" stroke="#ff0000" stroke-width="1.8" stroke-linejoin="round"/>
</g>
<line x1="870.3000000000001" y1="398.4" x2="874.6" y2="398.4" stroke="#555" stroke-width="0.9"/>
<line x1="872.1" y1="401.7" x2="874.6" y2="401.7" stroke="#555" stroke-width="0.9"/>
<line x1="870.3000000000001" y1="404.9" x2="874.6" y2="404.9" stroke="#555" stroke-width="0.9"/>
<line x1="872.1" y1="408" x2="874.6" y2="408" stroke="#555" stroke-width="0.9"/>
<line x1="870.3000000000001" y1="411.2" x2="874.6" y2="411.2" stroke="#555" stroke-width="0.9"/>
<line x1="872.1" y1="414.4" x2="874.6" y2="414.4" stroke="#555" stroke-width="0.9"/>
<line x1="870.3000000000001" y1="417.5" x2="874.6" y2="417.5" stroke="#555" stroke-width="0.9"/>
<line x1="872.1" y1="420.7" x2="874.6" y2="420.7" stroke="#555" stroke-width="0.9"/>
<line x1="870.3000000000001" y1="424" x2="874.6" y2="424" stroke="#555" stroke-width="0.9"/>
<g clip-path="url(#cva)" font-size="9.6" fill="#1a1a1a" letter-spacing="0.9">
<text x="876" y="403.2">12: M</text>
<text x="876" y="410.2">10: M</text>
<text x="876" y="417.2">8: Mr</text>
<text x="876" y="424.2">6: Mr</text>
<text x="876" y="431.2">4: Mr</text>
</g>
<line x1="0" y1="427.2" x2="905" y2="427.2" stroke="#d8d8d8" stroke-width="1"/>
<line x1="904.5" y1="395" x2="904.5" y2="427" stroke="#d0d0d0" stroke-width="1"/>

<!-- date axis -->
<g font-size="11" fill="#111" letter-spacing="0.35">
<line x1="184.8" y1="429.3" x2="184.8" y2="441" stroke="#444" stroke-width="1"/><text x="186.3" y="440.8">10/25</text>
<line x1="411.2" y1="429.3" x2="411.2" y2="441" stroke="#444" stroke-width="1"/><text x="412.7" y="440.8">11/25</text>
<line x1="617.2" y1="429.3" x2="617.2" y2="441" stroke="#444" stroke-width="1"/><text x="618.7" y="440.8">12/25</text>
<line x1="854.5" y1="429.3" x2="854.5" y2="441" stroke="#444" stroke-width="1"/><text x="856" y="440.8">01/26</text>
</g>
<rect x="0" y="441.5" width="908" height="6.5" fill="#f2f2f2"/>
<rect x="0" y="445.8" width="908" height="2.2" fill="#e6ecf2"/>

<rect x="0" y="441.5" width="7" height="4" fill="#d0d0d0"/>
<rect x="1" y="442.3" width="5" height="2.4" fill="#f4f4f4"/>
<rect x="862.2" y="441.5" width="11.6" height="3.9" fill="#d8d8d8"/>
<rect x="864" y="442" width="8" height="1.2" fill="#f4f4f4"/>
<rect x="884.4" y="436.1" width="9.2" height="8.8" fill="#dedede" stroke="#b0b0b0" stroke-width="0.6"/>
<path d="M886.5,441.5 L889.5,438.5 L891.5,438.5 M891.5,439.5 L888.5,442.5 L886.5,442.5" fill="none" stroke="#1a50c0" stroke-width="1.3"/>
<rect x="894.2" y="439.6" width="10.6" height="5.6" fill="#e4e4e4"/>
<path d="M895.1,442.2 L898.5,440.6 L898.5,443.8 Z M903.8,442.2 L900.9,440.6 L900.9,443.8 Z" fill="#1a3ad0"/>
</svg>
</body></html>
